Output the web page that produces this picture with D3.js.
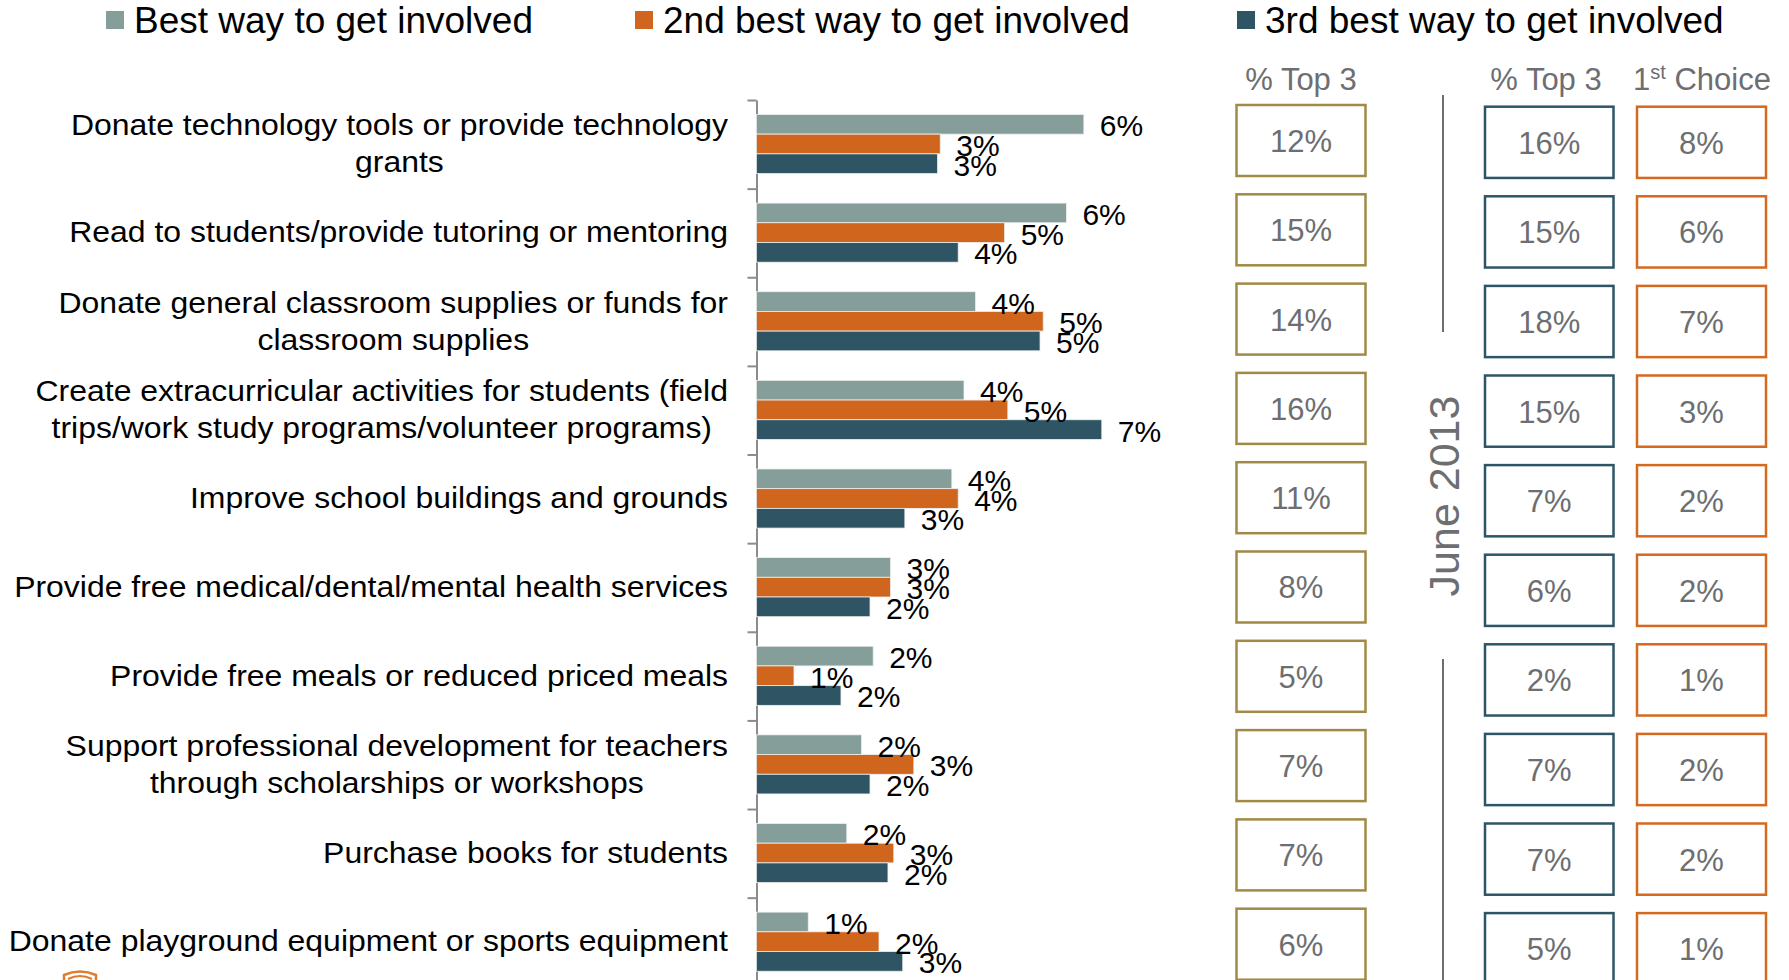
<!DOCTYPE html>
<html>
<head>
<meta charset="utf-8">
<script src="https://cdn.jsdelivr.net/npm/d3@7"></script>
<style>
  html, body { margin: 0; padding: 0; background: #ffffff; }
  svg { display: block; font-family: "Liberation Sans", Arial, Helvetica, sans-serif; }
</style>
</head>
<body>
<svg id="chart" width="1789" height="980"></svg>
<script>
// ---------- data ----------
const categories = [
  "Donate technology tools or provide technology|grants",
  "Read to students/provide tutoring or mentoring",
  "Donate general classroom supplies or funds for|classroom supplies",
  "Create extracurricular activities for students (field|trips/work study programs/volunteer programs)",
  "Improve school buildings and grounds",
  "Provide free medical/dental/mental health services",
  "Provide free meals or reduced priced meals",
  "Support professional development for teachers|through scholarships or workshops",
  "Purchase books for students",
  "Donate playground equipment or sports equipment"
];
const seriesNames = ["Best way to get involved", "2nd best way to get involved", "3rd best way to get involved"];
const bestWay   = [6.20, 5.87, 4.15, 3.93, 3.70, 2.54, 2.21, 1.99, 1.71, 0.98];
const secondWay = [3.48, 4.70, 5.43, 4.76, 3.82, 2.54, 0.71, 2.98, 2.60, 2.32];
const thirdWay  = [3.43, 3.82, 5.37, 6.54, 2.81, 2.15, 1.60, 2.15, 2.49, 2.77];
const top3Current = [12, 15, 14, 16, 11, 8, 5, 7, 7, 6];
const top3June2013 = [16, 15, 18, 15, 7, 6, 2, 7, 7, 5];
const firstChoiceJune2013 = [8, 6, 7, 3, 2, 2, 1, 2, 2, 1];
const waveLabel = "June 2013";

// ---------- styles ----------
const barColors = ["#869e9a", "#d0651e", "#2f5565"];
const boxColors = ["#a08a45", "#2e5566", "#d4691f"];
const grayText = "#6d6e71";

const svg = d3.select("#chart");
const seriesVals = [bestWay, secondWay, thirdWay];

// ---------- scales ----------
const idx = d3.range(categories.length);
const yBand = d3.scaleBand().domain(idx).range([100, 986.3]).padding(0);
const yInner = d3.scaleBand().domain([0, 1, 2])
  .range([yBand.bandwidth() * 0.163, yBand.bandwidth() * 0.83]).padding(0);
const x = d3.scaleLinear().domain([0, 10]).range([756.5, 756.5 + 528]);
const yEdge = d3.scaleLinear().domain([0, categories.length]).range([100, 986.3]);

// ---------- legend ----------
const legendX = [106, 635, 1237];
const leg = svg.append("g");
seriesNames.forEach((name, i) => {
  leg.append("rect").attr("x", legendX[i]).attr("y", 11).attr("width", 18).attr("height", 18)
    .attr("fill", barColors[i]);
  leg.append("text").attr("x", legendX[i] + 28).attr("y", 33).attr("font-size", 37)
    .attr("fill", "#000").text(name);
});

// ---------- axis ----------
const axis = svg.append("g").attr("transform", `translate(${x(0)},0)`)
  .call(d3.axisLeft(yEdge).tickValues(d3.range(0, categories.length + 1)).tickFormat("")
    .tickSize(9).tickSizeOuter(0));
axis.selectAll("path, line").attr("stroke", "#8c8c8c").attr("stroke-width", 2);

// ---------- bars ----------
const groups = svg.append("g").selectAll("g.cat").data(idx).join("g")
  .attr("class", "cat").attr("transform", i => `translate(0,${yBand(i)})`);

groups.each(function(i) {
  const g = d3.select(this);
  [0, 1, 2].forEach(s => {
    const v = seriesVals[s][i];
    g.append("rect")
      .attr("x", x(0))
      .attr("y", yInner(s))
      .attr("width", x(v) - x(0))
      .attr("height", yInner.bandwidth())
      .attr("fill", barColors[s])
      .attr("stroke", "#eef0f0").attr("stroke-width", 0.8);
  });
  [0, 1, 2].forEach(s => {
    const v = seriesVals[s][i];
    g.append("text")
      .attr("x", x(v) + 16)
      .attr("y", yInner(s) + yInner.bandwidth() / 2 + 12)
      .attr("font-size", 30)
      .attr("fill", "#000")
      .text(Math.round(v) + "%");
  });
});

// ---------- category labels ----------
const labelG = svg.append("g");
idx.forEach(i => {
  const lines = categories[i].split("|");
  const c = yBand(i) + yBand.bandwidth() / 2;
  const g = labelG.append("g").attr("transform", "translate(728,0) scale(1.055,1)");
  const t = g.append("text").attr("font-size", 30.3).attr("fill", "#000");
  const tspans = lines.map((ln, k) =>
    t.append("tspan").attr("y", c + 9.5 + (k - (lines.length - 1) / 2) * 37).text(ln));
  if (lines.length === 1) {
    t.attr("text-anchor", "end");
    tspans[0].attr("x", 0);
  } else {
    const maxW = d3.max(tspans, ts => ts.node().getComputedTextLength());
    t.attr("text-anchor", "middle");
    tspans.forEach(ts => ts.attr("x", -maxW / 2));
  }
});

// ---------- right-hand boxes ----------
const boxCols = [
  { vals: top3Current, x0: 1236.5, w: 129, y0: 105, step: 89.3, color: boxColors[0] },
  { vals: top3June2013, x0: 1485, w: 128.5, y0: 106.7, step: 89.6, color: boxColors[1] },
  { vals: firstChoiceJune2013, x0: 1637, w: 129, y0: 106.7, step: 89.6, color: boxColors[2] }
];
const boxG = svg.append("g");
boxCols.forEach(col => {
  const by = d3.scaleBand().domain(idx)
    .range([col.y0, col.y0 + col.step * (categories.length - 0.205)])
    .paddingInner(0.205).paddingOuter(0);
  idx.forEach(i => {
    boxG.append("rect").attr("x", col.x0).attr("y", by(i))
      .attr("width", col.w).attr("height", by.bandwidth())
      .attr("fill", "none").attr("stroke", col.color).attr("stroke-width", 2.5);
    boxG.append("text").attr("x", col.x0 + col.w / 2).attr("y", by(i) + by.bandwidth() / 2 + 11.5)
      .attr("text-anchor", "middle").attr("font-size", 31).attr("fill", grayText)
      .text(col.vals[i] + "%");
  });
});

// headers
svg.append("text").attr("x", 1301).attr("y", 90).attr("text-anchor", "middle")
  .attr("font-size", 31).attr("fill", grayText).text("% Top 3");
svg.append("text").attr("x", 1546).attr("y", 90).attr("text-anchor", "middle")
  .attr("font-size", 31).attr("fill", grayText).text("% Top 3");
const ch = svg.append("text").attr("x", 1702).attr("y", 90).attr("text-anchor", "middle")
  .attr("font-size", 31).attr("fill", grayText);
ch.append("tspan").text("1");
ch.append("tspan").attr("font-size", 20).attr("dy", -11).text("st");
ch.append("tspan").attr("dy", 11).text(" Choice");

// separator lines and wave label
svg.append("line").attr("x1", 1443).attr("x2", 1443).attr("y1", 95).attr("y2", 332)
  .attr("stroke", grayText).attr("stroke-width", 2);
svg.append("line").attr("x1", 1443).attr("x2", 1443).attr("y1", 659).attr("y2", 980)
  .attr("stroke", grayText).attr("stroke-width", 2);
svg.append("text").attr("transform", "translate(1459,496) rotate(-90)")
  .attr("text-anchor", "middle").attr("font-size", 43).attr("fill", grayText).text(waveLabel);

// small logo fragment bottom-left
svg.append("path").attr("d", "M64,981 L64,975 Q80,968 96,975 L96,981")
  .attr("fill", "none").attr("stroke", "#e07b2e").attr("stroke-width", 2.5);
svg.append("path").attr("d", "M68,979 Q80,973 92,979")
  .attr("fill", "none").attr("stroke", "#e07b2e").attr("stroke-width", 2);
</script>
</body>
</html>
